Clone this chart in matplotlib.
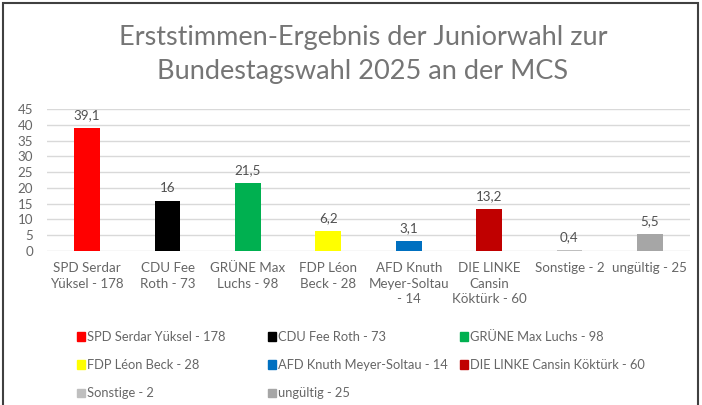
import matplotlib.pyplot as plt
from matplotlib.patches import Patch, Rectangle

plt.rcParams['font.family'] = ['Lato', 'DejaVu Sans']

tick_labels = ["SPD Serdar\nYüksel - 178", "CDU Fee\nRoth - 73", "GRÜNE Max\nLuchs - 98",
               "FDP Léon\nBeck - 28", "AFD Knuth\nMeyer-Soltau\n- 14",
               "DIE LINKE\nCansin\nKöktürk - 60", "Sonstige - 2", "ungültig - 25"]
legend_labels = ["SPD Serdar Yüksel - 178", "CDU Fee Roth - 73", "GRÜNE Max Luchs - 98",
                 "FDP Léon Beck - 28", "AFD Knuth Meyer-Soltau - 14",
                 "DIE LINKE Cansin Köktürk - 60", "Sonstige - 2", "ungültig - 25"]
values = [39.1, 16, 21.5, 6.2, 3.1, 13.2, 0.4, 5.5]
colors = ["#ff0000", "#000000", "#00b050", "#ffff00", "#0070c0", "#c00000", "#bfbfbf", "#a6a6a6"]

grey = "#666666"

fig = plt.figure(figsize=(7.02, 4.05), dpi=100)
ax = fig.add_axes([47/702, 1 - 251/405, (690 - 47)/702, (251 - 109)/405])

x = list(range(len(values)))
bars = ax.bar(x, values, width=0.32, color=colors)
ax.set_xlim(-0.5, len(values) - 0.5)
ax.set_ylim(0, 45)
ax.set_yticks(range(0, 46, 5))
ax.yaxis.grid(True, color="#d9d9d9", lw=1)
ax.set_axisbelow(True)
for s in ax.spines.values():
    s.set_visible(False)
ax.set_xticks(x, tick_labels)
ax.tick_params(length=0, colors=grey, labelsize=9.6)
ax.tick_params(axis="x", pad=8)
ax.tick_params(axis="y", pad=10)
for t in ax.get_xticklabels():
    t.set_linespacing(1.35)
ax.bar_label(bars, labels=[f"{v:g}".replace(".", ",") for v in values],
             padding=5, color="#505050", fontsize=9.6)

# title
fig.text(363/702, 1 - 38/405, "Erststimmen-Ergebnis der Juniorwahl zur",
         ha="center", va="center", fontsize=19.5, color="#757575")
fig.text(363/702, 1 - 72/405, "Bundestagswahl 2025 an der MCS",
         ha="center", va="center", fontsize=19.5, color="#757575")

# legend, three fixed-width columns like excel
handles = [Patch(color=c) for c in colors]
col_x = [77, 268, 460]
for i, cx in enumerate(col_x):
    idx = list(range(i, len(values), 3))
    leg = fig.legend([handles[j] for j in idx], [legend_labels[j] for j in idx],
                     loc="upper left", bbox_to_anchor=(cx/702, 1 - 331/405),
                     frameon=False, fontsize=9.3, handlelength=0.6, handleheight=0.6,
                     handletextpad=0.15, labelspacing=1.25, borderpad=0, borderaxespad=0)
    for t in leg.get_texts():
        t.set_color(grey)

# outer frame
fig.patches.append(Rectangle((3/702, -0.05), 695/702, 1.05 - 3/405, transform=fig.transFigure,
                             fill=False, edgecolor="#404040", lw=1.5))

plt.savefig("out.png", dpi=100)
